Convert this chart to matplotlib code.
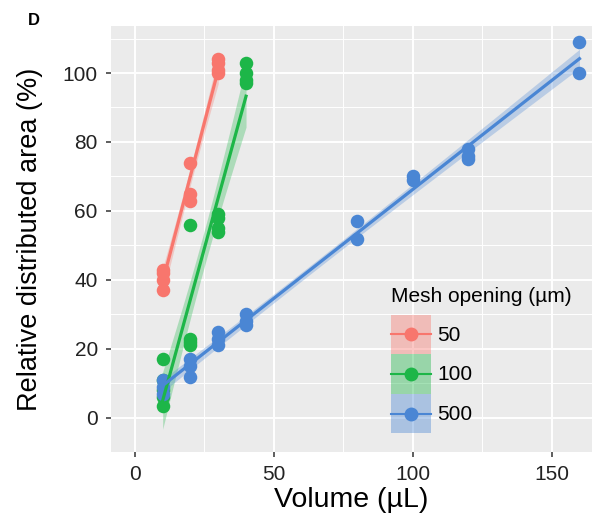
import numpy as np
import matplotlib
matplotlib.use("Agg")
import matplotlib.pyplot as plt
from matplotlib.lines import Line2D
from matplotlib.patches import Patch, Rectangle

plt.rcParams["font.family"] = ["Liberation Sans", "DejaVu Sans"]

# ---- data: relative distributed area vs applied volume, per mesh opening ----
mesh_labels = ["50", "100", "500"]
colors = ["#F8766D", "#1DB648", "#4A86D4"]

vol_50 = [10, 10, 10, 10, 20, 20, 20, 30, 30, 30, 30]
area_50 = [43, 42, 40, 37, 74, 65, 63, 104, 103, 101, 100]

vol_100 = [10, 10, 10, 10, 10, 20, 20, 20, 20, 30, 30, 30, 30, 40, 40, 40, 40]
area_100 = [17, 11, 8, 6, 3.5, 56, 23, 22, 21, 59, 58, 55, 54, 103, 100, 98, 97]

vol_500 = [10, 10, 10, 20, 20, 20, 30, 30, 30, 40, 40, 40,
           80, 80, 100, 100, 120, 120, 120, 160, 160]
area_500 = [11, 9, 7, 17, 15, 12, 25, 23, 21, 30, 28, 27,
            57, 52, 70, 69, 78, 76, 75, 109, 100]

groups = [(vol_50, area_50), (vol_100, area_100), (vol_500, area_500)]

x_ticks = [0, 50, 100, 150]
y_ticks = [0, 20, 40, 60, 80, 100]


def t975(df):
    # Cornish-Fisher expansion of Student-t 97.5% quantile
    z = 1.959964
    return (z + (z**3 + z) / (4 * df)
            + (5 * z**5 + 16 * z**3 + 3 * z) / (96 * df**2))


def lm_band(x, y, n_grid=80):
    x = np.asarray(x, float); y = np.asarray(y, float)
    n = len(x)
    b, a = np.polyfit(x, y, 1)
    resid = y - (a + b * x)
    s = np.sqrt(np.sum(resid**2) / (n - 2))
    xm = x.mean(); sxx = np.sum((x - xm)**2)
    xg = np.linspace(x.min(), x.max(), n_grid)
    yg = a + b * xg
    se = s * np.sqrt(1 / n + (xg - xm)**2 / sxx)
    t = t975(n - 2)
    return xg, yg, yg - t * se, yg + t * se


class SmoothKey:
    """ggplot-style key: shaded band box with a line and a point centred in it."""
    def legend_artist(self, legend, orig_handle, fontsize, handlebox):
        col = orig_handle.get_facecolor()[:3]
        x0, y0 = handlebox.xdescent, handlebox.ydescent
        w, h = handlebox.width, handlebox.height
        tr = handlebox.get_transform()
        yc = -y0 + h / 2
        rect = Rectangle((-x0, -y0), w, h, facecolor=col, alpha=0.4, lw=0, transform=tr)
        line = Line2D([-x0, -x0 + w], [yc, yc], color=col, lw=1.5, transform=tr)
        dot = Line2D([-x0 + w / 2], [yc], color=col, marker="o", ms=9, ls="none",
                     transform=tr)
        for a in (rect, line, dot):
            handlebox.add_artist(a)
        return rect


fig = plt.figure(figsize=(5.92, 5.22), dpi=100)
ax = fig.add_axes([0.1875, 0.134, 0.8125, 0.816])
ax.set_facecolor("#EBEBEB")
for s in ax.spines.values():
    s.set_visible(False)

ax.set_xlim(-8.6, 164.5)
ax.set_ylim(-9.9, 113.6)
ax.set_xticks(x_ticks)
ax.set_yticks(y_ticks)
ax.set_xticks([25, 75, 125], minor=True)
ax.set_yticks([10, 30, 50, 70, 90, 110], minor=True)
ax.grid(True, which="major", color="white", lw=1.4)
ax.grid(True, which="minor", color="white", lw=0.7)
ax.set_axisbelow(True)
ax.tick_params(which="major", length=3.5, width=1.1, color="#333333",
               labelsize=15, labelcolor="#222222", pad=6)
ax.tick_params(which="minor", length=0)

handles = []
for (vx, vy), col, lab in zip(groups, colors, mesh_labels):
    xg, yg, lo, hi = lm_band(vx, vy)
    ax.fill_between(xg, lo, hi, color=col, alpha=0.3, lw=0, zorder=2)
    ax.scatter(vx, vy, s=95, color=col, lw=0, zorder=3)
    ax.plot(xg, yg, color=col, lw=2.3, zorder=4)
    handles.append(Patch(facecolor=col))

ax.set_xlabel("Volume (\u00b5L)", fontsize=20.5, labelpad=2)
ax.set_ylabel("Relative distributed area (%)", fontsize=19.5, labelpad=14)

leg = ax.legend(handles, mesh_labels, handler_map={Patch: SmoothKey()},
                title="Mesh opening (\u00b5m)", loc="upper left",
                bbox_to_anchor=(0.582, 0.387), frameon=False, fontsize=15,
                title_fontsize=15, handlelength=1.92, handleheight=2.55,
                labelspacing=0.0, handletextpad=0.3, borderpad=0.0,
                borderaxespad=0.0)
leg._legend_box.align = "left"
leg._legend_box.sep = 6

fig.text(0.047, 0.96, "D", fontsize=12, fontweight="bold", ha="left", va="center")

fig.savefig("out.png", dpi=100)
